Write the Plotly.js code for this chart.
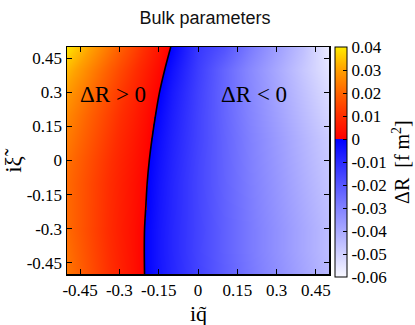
<!DOCTYPE html>
<html>
<head>
<meta charset="utf-8">
<script src="https://cdn.plot.ly/plotly-3.0.1.min.js"></script>
<style>html,body{margin:0;padding:0;background:#fff;}#chart{width:415px;height:325px;}</style>
</head>
<body>
<div id="chart"></div>
<script>
// q-tilde grid (x) and xi-tilde grid (y)
const qValues = [-0.5,-0.4,-0.3,-0.25,-0.2,-0.15,-0.1,0,0.1,0.2,0.3,0.4,0.5];
const xiValues = [-0.5,-0.4,-0.3,-0.2,-0.1,0,0.1,0.2,0.3,0.4,0.5];
// Delta R [fm^2], one row per xi value
const rowXiM05 = [0.0230,0.0152,0.0075,0.0036,-0.00055,-0.0050,-0.0087,-0.0154,-0.0216,-0.0274,-0.0331,-0.0386,-0.0440];
const rowXiM04 = [0.0220,0.0145,0.0071,0.0034,-0.00067,-0.0052,-0.0089,-0.0158,-0.0221,-0.0281,-0.0339,-0.0395,-0.0450];
const rowXiM03 = [0.0210,0.0139,0.0068,0.0033,-0.0006,-0.0051,-0.0089,-0.0157,-0.0221,-0.0281,-0.0339,-0.0395,-0.0450];
const rowXiM02 = [0.0210,0.0140,0.0070,0.0036,0.0001,-0.0048,-0.0087,-0.0158,-0.0224,-0.0286,-0.0346,-0.0403,-0.0460];
const rowXiM01 = [0.0210,0.0141,0.0073,0.0038,0.0004,-0.0045,-0.0086,-0.0159,-0.0227,-0.0290,-0.0352,-0.0412,-0.0470];
const rowXi00  = [0.0220,0.0150,0.0080,0.0045,0.0010,-0.0039,-0.0082,-0.0158,-0.0228,-0.0294,-0.0358,-0.0420,-0.0480];
const rowXi01  = [0.0240,0.0166,0.0092,0.0055,0.0018,-0.0030,-0.0076,-0.0155,-0.0229,-0.0297,-0.0364,-0.0428,-0.0490];
const rowXi02  = [0.0260,0.0183,0.0106,0.0068,0.0029,-0.0017,-0.0068,-0.0154,-0.0232,-0.0305,-0.0376,-0.0444,-0.0510];
const rowXi03  = [0.0290,0.0208,0.0126,0.0085,0.0044,0.0002,-0.0057,-0.0150,-0.0234,-0.0312,-0.0387,-0.0459,-0.0530];
const rowXi04  = [0.0330,0.0242,0.0153,0.0109,0.0065,0.0020,-0.0038,-0.0142,-0.0232,-0.0316,-0.0397,-0.0475,-0.0550];
const rowXi05  = [0.0390,0.0292,0.0193,0.0144,0.0095,0.0045,-0.0008,-0.0128,-0.0188,-0.0282,-0.0371,-0.0456,-0.0570];
// Delta R = 0 boundary
const boundaryXi = [-0.5,-0.4,-0.3,-0.2,-0.1,0,0.1,0.2,0.3,0.4,0.5];
const boundaryQ  = [-0.204,-0.205,-0.204,-0.199,-0.194,-0.186,-0.175,-0.162,-0.147,-0.127,-0.104];
// tick labels
const axisTicks = [-0.45,-0.3,-0.15,0,0.15,0.3,0.45];
const axisTickText = ['-0.45','-0.3','-0.15','0','0.15','0.3','0.45'];
const cbTicks = [0.04,0.03,0.02,0.01,0,-0.01,-0.02,-0.03,-0.04,-0.05,-0.06];
const cbTickText = ['0.04','0.03','0.02','0.01','0','-0.01','-0.02','-0.03','-0.04','-0.05','-0.06'];

const zGrid = [rowXiM05,rowXiM04,rowXiM03,rowXiM02,rowXiM01,rowXi00,rowXi01,rowXi02,rowXi03,rowXi04,rowXi05];
const serif = 'Liberation Serif, Times New Roman, serif';

const heat = {
  type: 'heatmap', x: qValues, y: xiValues, z: zGrid, zsmooth: 'best',
  zmin: -0.06, zmax: 0.04,
  colorscale: [
    [0, 'rgb(248,248,255)'], [0.3, 'rgb(130,130,255)'], [0.5999, 'rgb(0,0,255)'],
    [0.6, 'rgb(255,0,0)'], [0.7, 'rgb(255,45,0)'], [0.8, 'rgb(255,100,0)'],
    [0.9, 'rgb(255,160,0)'], [1, 'rgb(255,235,0)']
  ],
  hoverinfo: 'skip',
  colorbar: {
    x: 1.023, xanchor: 'left', xref: 'paper', xpad: 0, ypad: 0,
    y: 0.493, yanchor: 'middle', len: 1.013,
    thickness: 12, outlinecolor: '#000', outlinewidth: 1,
    tickvals: cbTicks, ticktext: cbTickText, ticks: 'inside', ticklen: 4, tickcolor: '#000',
    tickfont: {family: serif, size: 17, color: '#000'},
    title: {text: 'ΔR  [f m<sup>2</sup>]', side: 'right', font: {family: serif, size: 20, color: '#000'}}
  }
};
const line = {
  type: 'scatter', mode: 'lines', x: boundaryQ, y: boundaryXi,
  line: {color: '#000', width: 1.6, shape: 'spline'}, hoverinfo: 'skip', showlegend: false
};

const axisCommon = {
  range: [-0.5, 0.5], tickvals: axisTicks, ticktext: axisTickText,
  ticks: 'inside', ticklen: 5, tickcolor: '#000', mirror: 'allticks',
  showline: true, linecolor: '#000', linewidth: 1.5, showgrid: false, zeroline: false,
  tickfont: {family: serif, size: 17, color: '#000'}
};

const layout = {
  width: 415, height: 325, paper_bgcolor: '#fff', plot_bgcolor: '#fff',
  margin: {l: 67, r: 86, t: 47, b: 51, autoexpand: false},
  title: {text: 'Bulk parameters', x: 0.494, xanchor: 'center', y: 0.945, yanchor: 'middle',
          font: {family: 'Liberation Sans, Arial, sans-serif', size: 18, color: '#111'}},
  xaxis: Object.assign({}, axisCommon),
  yaxis: Object.assign({}, axisCommon),
  annotations: [
    {x: -0.326, y: 0.292, xref: 'x', yref: 'y', text: 'ΔR > 0', showarrow: false,
     font: {family: serif, size: 23, color: '#000'}},
    {x: 0.214, y: 0.292, xref: 'x', yref: 'y', text: 'ΔR < 0', showarrow: false,
     font: {family: serif, size: 23, color: '#000'}},
    {x: 0.5, y: -0.176, xref: 'paper', yref: 'paper', xanchor: 'center', yanchor: 'middle',
     text: 'iq\u0303', showarrow: false, font: {family: serif, size: 22, color: '#000'}},
    {x: -0.205, y: 0.5, xref: 'paper', yref: 'paper', xanchor: 'center', yanchor: 'middle', textangle: -90,
     text: 'i\u03be\u0303', showarrow: false, font: {family: serif, size: 23, color: '#000'}}
  ],
  showlegend: false
};
Plotly.newPlot('chart', [heat, line], layout, {displayModeBar: false, staticPlot: true});
</script>
</body>
</html>
